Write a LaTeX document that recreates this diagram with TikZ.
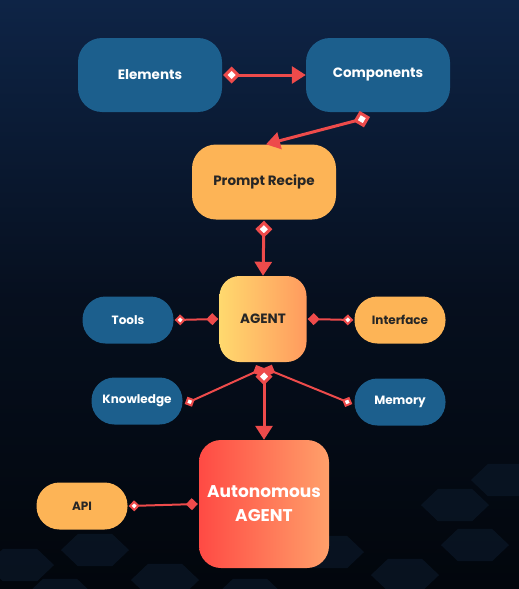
\documentclass[tikz,border=0pt]{standalone}
\usepackage{fontspec}
\setmainfont{Poppins}
\usetikzlibrary{arrows.meta}
\definecolor{bgtop}{HTML}{0E2446}
\definecolor{bgmid}{HTML}{060F1E}
\definecolor{bgbot}{HTML}{02060C}
\definecolor{nblue}{HTML}{1C5F8D}
\definecolor{norange}{HTML}{FDB456}
\definecolor{lred}{HTML}{EE4B4B}
\definecolor{agl}{HTML}{FFD96E}
\definecolor{agr}{HTML}{FF9A5E}
\definecolor{aul}{HTML}{FF4A44}
\definecolor{aur}{HTML}{FFA06A}
\definecolor{hexc}{HTML}{0B1828}
\tikzset{
  box/.style={rounded corners=24pt, inner sep=0pt, font=\bfseries\fontsize{13.5}{15}\selectfont},
  bluebig/.style={box, fill=nblue, text=white, minimum width=144pt, minimum height=74pt},
  pill/.style={rounded corners=23pt, inner sep=0pt, minimum width=91pt, minimum height=47pt, font=\bfseries\fontsize{12}{14}\selectfont},
  bluepill/.style={pill, fill=nblue, text=white},
  orpill/.style={pill, fill=norange, text=black!85},
  thick link/.style={draw=lred, line width=3pt},
  thin link/.style={draw=lred, line width=2pt},
  odia/.tip={Diamond[length=17pt,width=17pt,fill=white,line width=3pt]},
  sodia/.tip={Diamond[length=11pt,width=11pt,fill=white,line width=2pt]},
  fdia/.tip={Diamond[length=12pt,width=12pt]},
  harrow/.tip={Triangle[length=14pt,width=17pt]},
}
\begin{document}
\begin{tikzpicture}[x=1pt,y=-1pt]
\useasboundingbox (0,0) rectangle (519,589);
\shade[top color=bgtop, bottom color=bgmid] (0,0) rectangle (519,300);
\shade[top color=bgmid, bottom color=bgbot] (0,300) rectangle (519,589);
% faint hexagon texture at bottom
\foreach \cx/\cy in {20/565,95/550,165/580,330/552,405/575,475/545,60/595,250/595,455/505,505/480}{
  \fill[hexc, opacity=0.7, yscale=0.55] (\cx,\cy/0.55) +(0:34) -- +(60:34) -- +(120:34) -- +(180:34) -- +(240:34) -- +(300:34) -- cycle;
}
% nodes
\node[bluebig] (el) at (150,75) {Elements};
\node[bluebig] (co) at (378,75) {Components};
\node[box, fill=norange, text=black!85, minimum width=144pt, minimum height=75pt] (pr) at (264,182) {Prompt Recipe};
\node[box, rounded corners=20pt, left color=agl, right color=agr, text=black!85, minimum width=87pt, minimum height=86pt] (ag) at (263,319) {AGENT};
\node[bluepill] (to) at (128,320) {Tools};
\node[orpill] (in) at (400,320) {Interface};
\node[bluepill] (kn) at (137,401) {Knowledge};
\node[bluepill] (me) at (400,402) {Memory};
\node[box, rounded corners=22pt, left color=aul, right color=aur, text=white, minimum width=130pt, minimum height=128pt, align=center, font=\bfseries\fontsize{17}{24}\selectfont] (au) at (264,504) {Autonomous\\AGENT};
\node[orpill] (api) at (82,506) {API};
% connectors
\coordinate (agb) at (264,368);
\coordinate (cs) at (370,117);
\draw[thick link, {odia}-{harrow}] ([xshift=1pt]el.east) -- (co.west);
\draw[thick link, {odia}-{harrow}] (cs) -- ([xshift=2pt]pr.north);
\draw[thick link, {odia}-{harrow}] ([yshift=-1pt]pr.south) -- (ag.north);
\draw[thin link, {sodia}-{fdia}] ([xshift=1pt]to.east) -- ([xshift=-1pt]ag.west);
\draw[thin link, {sodia}-{fdia}] ([xshift=-1pt]in.west) -- ([xshift=1pt]ag.east);
\draw[thin link, {sodia}-{fdia}] ([xshift=2pt,yshift=-3pt]kn.east) -- (agb);
\draw[thin link, {sodia}-{fdia}] ([xshift=-2pt,yshift=-2pt]me.west) -- (agb);
\draw[thick link, {odia}-{harrow}] (agb) -- (au.north);
\draw[thin link, {sodia}-{fdia}] ([xshift=1pt]api.east) -- ([xshift=-1pt]au.west);
\end{tikzpicture}
\end{document}
